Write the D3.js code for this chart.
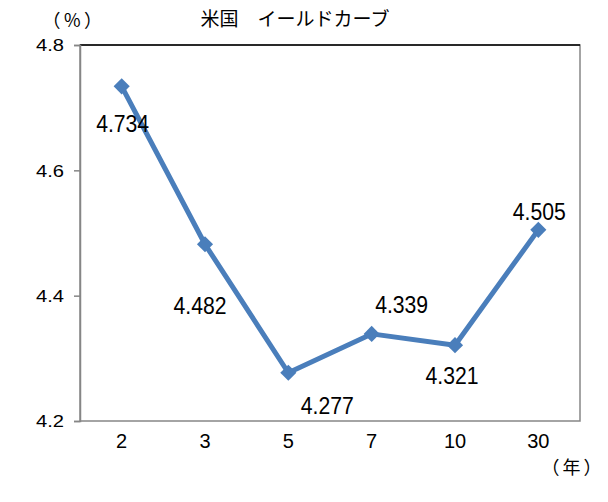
<!DOCTYPE html>
<html>
<head>
<meta charset="utf-8">
<script src="https://cdn.jsdelivr.net/npm/d3@7"></script>
<style>
  body { margin: 0; background: #fff; }
  text { font-family: "Liberation Sans", "Noto Sans CJK JP", sans-serif; fill: #000; }
  .jp { font-family: "Noto Sans CJK JP", sans-serif; }
</style>
</head>
<body>
<div id="chart"></div>
<script>
// 年限と利回り
var maturities = ["2", "3", "5", "7", "10", "30"];
var yields = [4.734, 4.482, 4.277, 4.339, 4.321, 4.505];
var yTicks = [4.2, 4.4, 4.6, 4.8];
// ラベルのずらし量 (dx, dy)
var labelOffsets = [[1, 46], [-5, 70], [39, 41], [30, -21], [-3, 39], [1, -10]];

var width = 608, height = 502;
var margin = {top: 45, right: 28, bottom: 81, left: 80};

var svg = d3.select("#chart")
    .append("svg")
    .attr("width", width)
    .attr("height", height);

var x = d3.scaleBand()
    .domain(maturities)
    .range([margin.left, width - margin.right]);

var y = d3.scaleLinear()
    .domain([4.2, 4.8])
    .range([height - margin.bottom, margin.top]);

// plot area frame
svg.append("rect")
    .attr("x", margin.left)
    .attr("y", margin.top)
    .attr("width", width - margin.left - margin.right)
    .attr("height", height - margin.top - margin.bottom)
    .attr("fill", "none")
    .attr("stroke", "#868686")
    .attr("stroke-width", 1.5);

svg.append("line")
    .attr("x1", margin.left).attr("x2", width - margin.right)
    .attr("y1", y(4.8)).attr("y2", y(4.8))
    .attr("stroke", "#000")
    .attr("stroke-width", 1.5);

// y axis
var yAxis = svg.append("g")
    .attr("transform", "translate(" + margin.left + ",0)")
    .call(d3.axisLeft(y).tickValues(yTicks).tickSize(6).tickPadding(10).tickFormat(d3.format(".1f")));
yAxis.select(".domain").attr("stroke", "#868686").attr("stroke-width", 1.5);
yAxis.selectAll(".tick line").attr("stroke", "#868686").attr("stroke-width", 1.5);
yAxis.selectAll(".tick text")
    .attr("font-size", 17)
    .attr("font-family", "Liberation Sans")
    .attr("dy", "0.35em")
    .attr("textLength", 28)
    .attr("lengthAdjust", "spacingAndGlyphs");

// x axis labels
var xAxis = svg.append("g")
    .attr("transform", "translate(0," + (height - margin.bottom) + ")")
    .call(d3.axisBottom(x).tickSize(0).tickPadding(13));
xAxis.select(".domain").remove();
xAxis.selectAll(".tick text")
    .attr("font-size", 20)
    .attr("font-family", "Liberation Sans")
    .attr("dy", "0.71em");

// line
var line = d3.line()
    .x(function (d, i) { return x(maturities[i]) + x.bandwidth() / 2; })
    .y(function (d) { return y(d); });

svg.append("path")
    .datum(yields)
    .attr("d", line)
    .attr("fill", "none")
    .attr("stroke", "#4a7ebb")
    .attr("stroke-width", 5)
    .attr("stroke-linejoin", "round");

// diamonds
svg.selectAll(".marker")
    .data(yields)
    .enter()
    .append("path")
    .attr("class", "marker")
    .attr("d", d3.symbol().type(d3.symbolSquare).size(130))
    .attr("transform", function (d, i) {
        return "translate(" + (x(maturities[i]) + x.bandwidth() / 2) + "," + y(d) + ") rotate(45)";
    })
    .attr("fill", "#4a7ebb");

// value labels
svg.selectAll(".val")
    .data(yields)
    .enter()
    .append("text")
    .attr("class", "val")
    .attr("x", function (d, i) { return x(maturities[i]) + x.bandwidth() / 2 + labelOffsets[i][0]; })
    .attr("y", function (d, i) { return y(d) + labelOffsets[i][1]; })
    .attr("text-anchor", "middle")
    .attr("font-size", 23)
    .attr("textLength", 53)
    .attr("lengthAdjust", "spacingAndGlyphs")
    .text(function (d) { return d3.format(".3f")(d); });

// titles
svg.append("text")
    .attr("class", "jp")
    .attr("x", 295).attr("y", 26)
    .attr("text-anchor", "middle")
    .attr("font-size", 19)
    .text("米国　イールドカーブ");

svg.append("text")
    .attr("class", "jp")
    .attr("x", 74).attr("y", 27)
    .attr("text-anchor", "middle")
    .attr("font-size", 18)
    .attr("letter-spacing", 3.5)
    .text("（%）");

svg.append("text")
    .attr("class", "jp")
    .attr("x", 573).attr("y", 474)
    .attr("text-anchor", "middle")
    .attr("font-size", 18)
    .attr("letter-spacing", 3)
    .text("（年）");
</script>
</body>
</html>
